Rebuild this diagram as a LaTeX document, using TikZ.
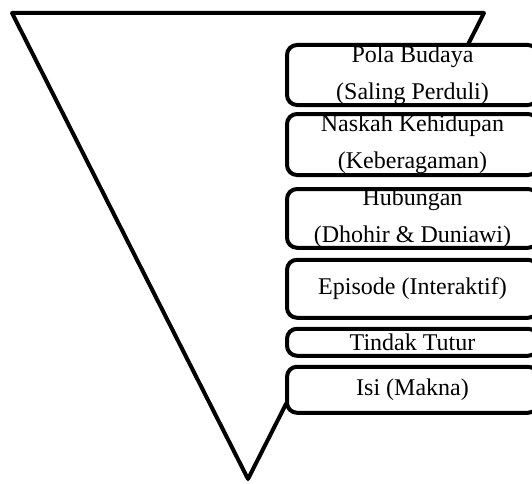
\documentclass[tikz,border=0pt]{standalone}
\usepackage{fontspec}
\setmainfont{Liberation Serif}
\usetikzlibrary{positioning}

\begin{document}
\begin{tikzpicture}[x=1pt, y=1pt,
    lvl/.style={rounded corners=10pt, draw=black, line width=4pt, fill=white, minimum width=251pt, inner sep=0pt, outer sep=0pt, align=center, font=\fontsize{24}{37}\selectfont},
    funnel/.style={line width=4pt, line join=round}
  ]
  \useasboundingbox (0,0) rectangle (532,483);
  \node[lvl, minimum height=60pt, anchor=north west] (pola) at (287,438) {Pola Budaya\\(Saling Perduli)};
  \node[lvl, minimum height=61pt, below=9pt of pola] (naskah) {Naskah Kehidupan\\(Keberagaman)};
  \node[lvl, minimum height=57pt, below=14pt of naskah] (hubungan) {Hubungan\\(Dhohir \& Duniawi)};
  \node[lvl, minimum height=58pt, below=12pt of hubungan] (episode) {Episode (Interaktif)};
  \node[lvl, minimum height=27pt, below=11pt of episode] (tindak) {Tindak Tutur};
  \node[lvl, minimum height=46pt, below=11pt of tindak] (isi) {Isi (Makna)};
  \begin{scope}
    \clip (0,0) -- (540,0) -- (540,0 |- isi.south) -- (isi.south west)
      -- (pola.north west) -- (540,0 |- pola.north) -- (540,483) -- (0,483) -- cycle;
    \draw[funnel] (12,470) -- (484,470) -- (248,4) -- cycle;
  \end{scope}
\end{tikzpicture}
\end{document}
